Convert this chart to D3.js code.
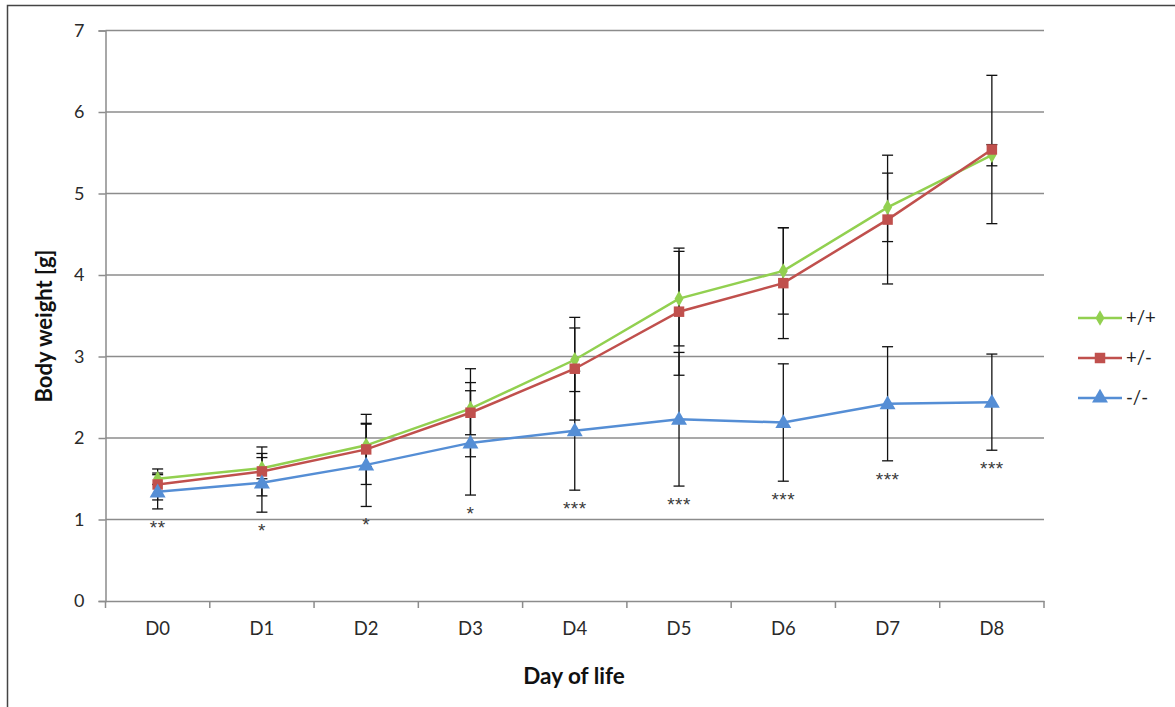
<!DOCTYPE html>
<html>
<head>
<meta charset="utf-8">
<script src="https://cdn.jsdelivr.net/npm/d3@7/dist/d3.min.js"></script>
<style>
  html, body { margin: 0; padding: 0; background: #fff; }
  svg { display: block; font-family: Lato, "Open Sans", "Liberation Sans", sans-serif; }
</style>
</head>
<body>
<svg id="chart" width="1175" height="707"></svg>
<script>
// ---- data ----
const days = ["D0", "D1", "D2", "D3", "D4", "D5", "D6", "D7", "D8"];
const seriesNames = ["+/+", "+/-", "-/-"];
const wtMean  = [1.50, 1.63, 1.91, 2.36, 2.96, 3.71, 4.05, 4.83, 5.47];
const wtSD    = [0.07, 0.13, 0.26, 0.32, 0.39, 0.58, 0.53, 0.42, 0.13];
const hetMean = [1.43, 1.59, 1.86, 2.31, 2.85, 3.55, 3.90, 4.68, 5.54];
const hetSD   = [0.19, 0.30, 0.43, 0.54, 0.63, 0.78, 0.68, 0.79, 0.91];
const koMean  = [1.34, 1.45, 1.67, 1.94, 2.09, 2.23, 2.19, 2.42, 2.44];
const koSD    = [0.21, 0.36, 0.51, 0.64, 0.73, 0.82, 0.72, 0.70, 0.59];
const stars   = ["**", "*", "*", "*", "***", "***", "***", "***", "***"];
const yTicks  = [0, 1, 2, 3, 4, 5, 6, 7];

const colors  = ["#92D050", "#C0504D", "#558ED5"];
const symbols = [d3.symbolDiamond, d3.symbolSquare, d3.symbolTriangle];
const symSize = [70, 110, 110];

const series = seriesNames.map((name, i) => ({
  name,
  mean: [wtMean, hetMean, koMean][i],
  sd: [wtSD, hetSD, koSD][i],
  color: colors[i],
  symbol: symbols[i],
  size: symSize[i]
}));

// ---- layout ----
const svg = d3.select("#chart");
const pLeft = 105.5, pRight = 1044, pTop = 30.5, pBottom = 601;

const x = d3.scaleBand().domain(days).range([pLeft, pRight]).padding(0);
const y = d3.scaleLinear().domain([0, 7]).range([pBottom, pTop]);
const cx = d => x(d) + x.bandwidth() / 2;

// frame
svg.append("path")
  .attr("d", `M7.5,707 L7.5,5.5 L1175,5.5`)
  .attr("fill", "none").attr("stroke", "#444").attr("stroke-width", 1.5);

// gridlines
svg.append("g").selectAll("line").data(yTicks.filter(t => t > 0)).join("line")
  .attr("x1", pLeft).attr("x2", pRight)
  .attr("y1", d => y(d)).attr("y2", d => y(d))
  .attr("stroke", "#8c8c8c").attr("stroke-width", 1.5);

// y axis
const yAxis = svg.append("g").attr("transform", `translate(${pLeft},0)`)
  .call(d3.axisLeft(y).tickValues(yTicks).tickSize(7).tickPadding(14).tickFormat(d3.format("d")));
yAxis.select(".domain").attr("stroke", "#8c8c8c").attr("stroke-width", 1.5);
yAxis.selectAll(".tick line").attr("stroke", "#8c8c8c").attr("stroke-width", 1.5);
yAxis.selectAll(".tick text").attr("font-size", 18).attr("fill", "#2a2a2a")
  .attr("font-family", "Lato, 'Open Sans', sans-serif");

// x axis
const xAxis = svg.append("g").attr("transform", `translate(0,${pBottom})`)
  .call(d3.axisBottom(x).tickSize(0).tickPadding(21));
xAxis.select(".domain").attr("stroke", "#8c8c8c").attr("stroke-width", 1.5);
xAxis.selectAll(".tick text").attr("font-size", 18.5).attr("fill", "#2a2a2a")
  .attr("font-family", "Lato, 'Open Sans', sans-serif");
// category boundary ticks
svg.append("g").selectAll("line").data(days.concat(["end"])).join("line")
  .attr("x1", (d, i) => pLeft + i * x.bandwidth())
  .attr("x2", (d, i) => pLeft + i * x.bandwidth())
  .attr("y1", pBottom).attr("y2", pBottom + 7)
  .attr("stroke", "#8c8c8c").attr("stroke-width", 1.5);

// error bars
const eb = svg.append("g");
series.forEach(s => {
  days.forEach((d, i) => {
    const hi = y(s.mean[i] + s.sd[i]), lo = y(s.mean[i] - s.sd[i]), xc = cx(d);
    eb.append("line").attr("x1", xc).attr("x2", xc).attr("y1", hi).attr("y2", lo)
      .attr("stroke", "#111").attr("stroke-width", 1.3);
    [hi, lo].forEach(yy => eb.append("line")
      .attr("x1", xc - 5.5).attr("x2", xc + 5.5).attr("y1", yy).attr("y2", yy)
      .attr("stroke", "#111").attr("stroke-width", 1.3));
  });
});

// lines + markers
const line = d3.line().x((v, i) => cx(days[i])).y(v => y(v));
series.forEach(s => {
  svg.append("path").datum(s.mean).attr("d", line)
    .attr("fill", "none").attr("stroke", s.color).attr("stroke-width", 2.5);
  svg.append("g").selectAll("path").data(s.mean).join("path")
    .attr("d", d3.symbol().type(s.symbol).size(s.size))
    .attr("transform", (v, i) => `translate(${cx(days[i])},${y(v) + (s.symbol === d3.symbolTriangle ? 1 : 0)})`)
    .attr("fill", s.color);
});

// significance stars
svg.append("g").selectAll("text").data(stars).join("text")
  .attr("x", (d, i) => cx(days[i]))
  .attr("y", (d, i) => y(koMean[i] - koSD[i]) + 25)
  .attr("text-anchor", "middle")
  .attr("font-family", "'Liberation Sans', Arial, sans-serif")
  .attr("font-size", 19).attr("letter-spacing", 0.5).attr("fill", "#3a3a3a")
  .text(d => d);

// axis titles
svg.append("text")
  .attr("transform", `translate(52,326) rotate(-90)`)
  .attr("text-anchor", "middle").attr("font-size", 22).attr("font-weight", "bold").attr("fill", "#111")
  .text("Body weight [g]");
svg.append("text")
  .attr("x", 574).attr("y", 684)
  .attr("text-anchor", "middle").attr("font-size", 22.5).attr("font-weight", "bold").attr("fill", "#111")
  .text("Day of life");

// legend
const lg = svg.append("g");
series.forEach((s, i) => {
  const ly = 318 + i * 40;
  lg.append("line").attr("x1", 1078).attr("x2", 1122).attr("y1", ly).attr("y2", ly)
    .attr("stroke", s.color).attr("stroke-width", 2.5);
  lg.append("path").attr("d", d3.symbol().type(s.symbol).size(s.size))
    .attr("transform", `translate(1100,${ly})`).attr("fill", s.color);
  lg.append("text").attr("x", 1126).attr("y", ly).attr("dy", "0.35em")
    .attr("font-size", 18.5).attr("fill", "#222").text(s.name);
});
</script>
</body>
</html>
